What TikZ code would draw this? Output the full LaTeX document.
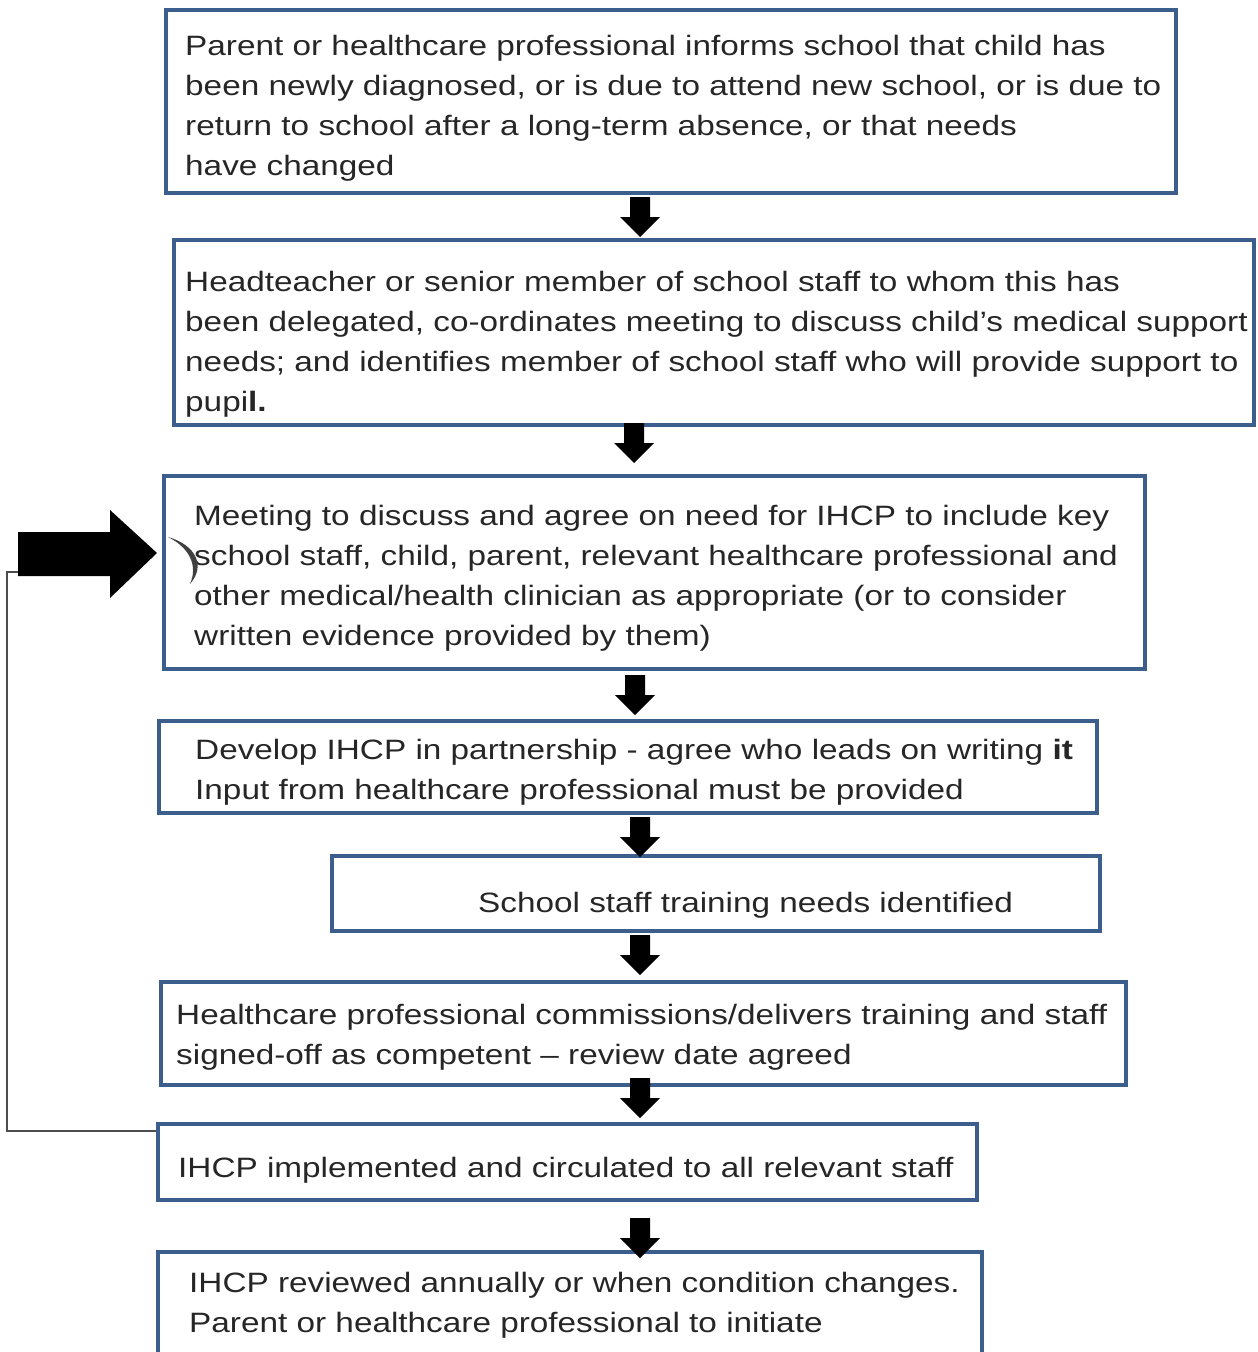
\documentclass[tikz,border=0pt]{standalone}
\usepackage{fontspec}
\setmainfont{Liberation Sans}[FakeStretch=1.19]
\usetikzlibrary{calc}

\definecolor{boxblue}{HTML}{3B5E8C}
\definecolor{txtgray}{HTML}{262626}

\tikzset{
  flowbox/.style={draw=boxblue, line width=4pt, inner sep=0pt},
  boxtext/.style={anchor=west, inner sep=0pt, align=left, text=txtgray,
    font=\fontsize{28}{40}\selectfont},
  linkline/.style={draw=black!70, line width=2pt}
}

% block arrow pointing down, #1 = top centre
\newcommand{\blockdown}[1]{%
  \fill[black] ($(#1)+(-10,0)$) -- ++(20,0) -- ++(0,20) -- ++(10,0)
    -- ++(-20,20) -- ++(-20,-20) -- ++(10,0) -- cycle;}

\begin{document}
\begin{tikzpicture}[x=1pt,y=-1pt]
    \useasboundingbox (0,0) rectangle (1258,1352);
    \clip (0,0) rectangle (1258,1352);

    % Boxes
    \node[flowbox, minimum width=1010pt, minimum height=183pt] (b1) at (671,101.5) {};
    \node[flowbox, minimum width=1080pt, minimum height=185pt] (b2) at (714,332.5) {};
    \node[flowbox, minimum width=981pt, minimum height=193pt] (b3) at (654.5,572.5) {};
    \node[flowbox, minimum width=938pt, minimum height=92pt] (b4) at (628,767) {};
    \node[flowbox, minimum width=768pt, minimum height=75pt] (b5) at (716,893.5) {};
    \node[flowbox, minimum width=965pt, minimum height=103pt] (b6) at (643.5,1033.5) {};
    \node[flowbox, minimum width=819pt, minimum height=76pt] (b7) at (567.5,1162) {};
    \node[flowbox, minimum width=824pt, minimum height=140pt] (b8) at (570,1322) {};

    % Box texts
    \node[boxtext] (t1) at (185,108) {Parent or healthcare professional informs school that child has\\
      been newly diagnosed, or is due to attend new school, or is due to\\
      return to school after a long-term absence, or that needs\\
      have changed};
    \node[boxtext] (t2) at (185,344.5) {Headteacher or senior member of school staff to whom this has\\
      been delegated, co-ordinates meeting to discuss child's medical support\\
      needs; and identifies member of school staff who will provide support to\\
      pupi\textbf{l.}};
    \node[boxtext] (t3) at (194,578) {Meeting to discuss and agree on need for IHCP to include key\\
      school staff, child, parent, relevant healthcare professional and\\
      other medical/health clinician as appropriate (or to consider\\
      written evidence provided by them)};
    \node[boxtext] (t4) at (195,772) {Develop IHCP in partnership - agree who leads on writing \textbf{it}\\
      Input from healthcare professional must be provided};
    \node[boxtext] (t5) at (478,905) {School staff training needs identified};
    \node[boxtext] (t6) at (176,1037) {Healthcare professional commissions/delivers training and staff\\
      signed-off as competent -- review date agreed};
    \node[boxtext] (t7) at (178,1170) {IHCP implemented and circulated to all relevant staff};
    \node[boxtext] (t8) at (189,1305) {IHCP reviewed annually or when condition changes.\\
      Parent or healthcare professional to initiate};

    % Down arrows
    \coordinate (a1) at (640,197);
    \coordinate (a2) at (634,423);
    \coordinate (a3) at (635,675);
    \coordinate (a4) at (640,817);
    \coordinate (a5) at (640,935);
    \coordinate (a6) at (640,1078);
    \coordinate (a7) at (640,1218);
    \foreach \c in {a1,a2,a3,a4,a5,a6,a7} {\blockdown{\c}}

    % Feedback arrow into meeting box
    \coordinate (fbtail) at (18,572);
    \fill[black] (18,532) -- (110,532) -- (110,510) -- (157,553) -- (110,598)
      -- (110,576) -- (18,576) -- cycle;
    \draw[linkline] ([yshift=31pt]b7.west) -- ++(-149,0) |- (fbtail);

    % stray mark at box edge
    \fill[black!75] (168,537) .. controls (196,545) and (206,566) .. (190,584)
      .. controls (198,566) and (190,548) .. (168,537) -- cycle;
\end{tikzpicture}
\end{document}
